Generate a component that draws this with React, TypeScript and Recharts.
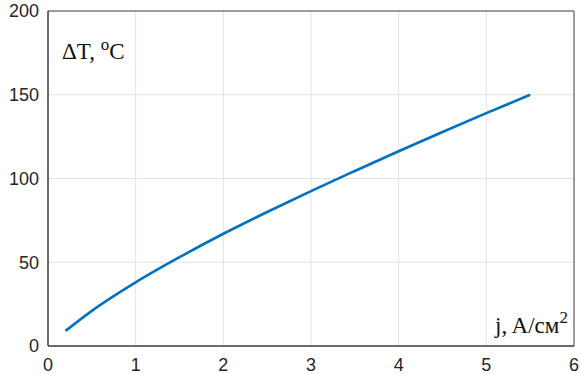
import React from 'react';
import { LineChart, Line, XAxis, YAxis, CartesianGrid, ReferenceArea } from 'recharts';

const jValues = [0.2, 0.5, 1, 1.5, 2, 2.5, 3, 3.5, 4, 4.5, 5, 5.5];
const dTValues = [9, 21, 38, 53, 67, 80, 92.5, 104.5, 116.3, 127.8, 139, 150];
const xTicks = [0, 1, 2, 3, 4, 5, 6];
const yTicks = [0, 50, 100, 150, 200];
const xDomain = [0, 6];
const yDomain = [0, 200];
const xGrid = [1, 2, 3, 4, 5];
const yGrid = [50, 100, 150];

const data = jValues.map((j, i) => ({ j, dT: dTValues[i] }));

const axisColor = '#3a3a3a';
const tickFont = { fontFamily: 'Liberation Sans, Arial, sans-serif', fontSize: 18, fill: '#262626' };

const hGen = (p: any) => {
  const o = p.offset;
  return yGrid.map((v) => o.top + o.height * (1 - (v - yDomain[0]) / (yDomain[1] - yDomain[0])));
};
const vGen = (p: any) => {
  const o = p.offset;
  return xGrid.map((v) => o.left + (o.width * (v - xDomain[0])) / (xDomain[1] - xDomain[0]));
};

export default function App() {
  return (
    <div style={{ position: 'absolute', left: 0, top: 0, width: 580, height: 374, background: '#fff' }}>
      <LineChart width={580} height={374} data={data} margin={{ top: 11, right: 6, bottom: 0, left: 0 }}>
        <CartesianGrid
          stroke="#e3e3e3"
          strokeWidth={1}
          horizontalCoordinatesGenerator={hGen}
          verticalCoordinatesGenerator={vGen}
        />
        <XAxis
          dataKey="j"
          type="number"
          domain={xDomain}
          ticks={xTicks}
          height={28}
          tickLine={false}
          tickMargin={6}
          stroke={axisColor}
          tick={tickFont}
          allowDataOverflow
        />
        <YAxis
          type="number"
          domain={yDomain}
          ticks={yTicks}
          width={48}
          tickLine={false}
          tickMargin={3}
          stroke={axisColor}
          tick={tickFont}
          allowDataOverflow
        />
        <ReferenceArea
          x1={xDomain[0]}
          x2={xDomain[1]}
          y1={yDomain[0]}
          y2={yDomain[1]}
          fill="none"
          fillOpacity={0}
          stroke={axisColor}
          strokeWidth={1}
          strokeOpacity={1}
          ifOverflow="visible"
        />
        <Line
          type="monotone"
          dataKey="dT"
          stroke="#0072BD"
          strokeWidth={2.6}
          dot={false}
          isAnimationActive={false}
        />
      </LineChart>
      <svg width={580} height={374} style={{ position: 'absolute', left: 0, top: 0, pointerEvents: 'none' }}>
        <text x={62} y={59} fontFamily="Liberation Serif, Times New Roman, serif" fontSize={23} fill="#111">
          ΔT, <tspan dy={-9} fontSize={17}>o</tspan><tspan dy={9}>C</tspan>
        </text>
        <text x={495} y={333} fontFamily="Liberation Serif, Times New Roman, serif" fontSize={23} fill="#111">
          j, A/см<tspan dy={-10} fontSize={17}>2</tspan>
        </text>
      </svg>
    </div>
  );
}
